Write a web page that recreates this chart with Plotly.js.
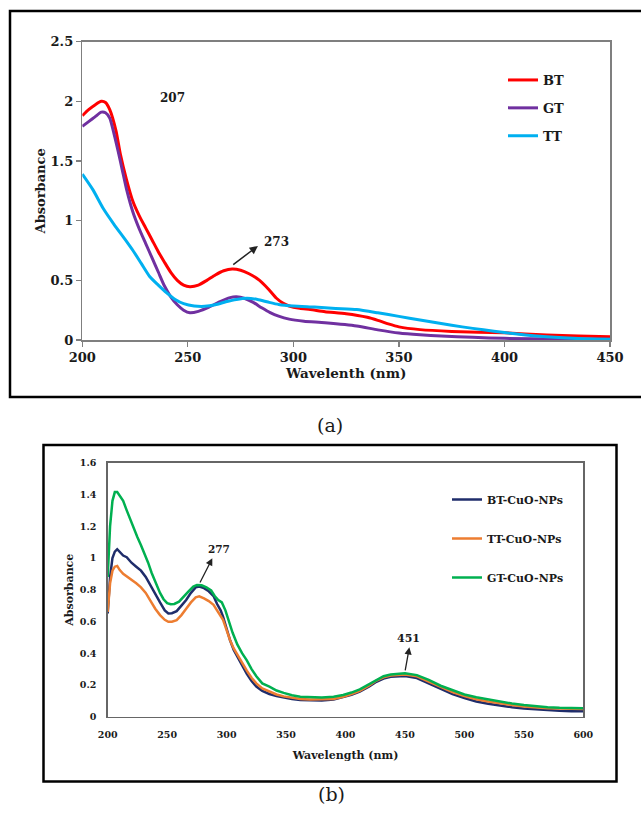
<!DOCTYPE html>
<html>
<head>
<meta charset="utf-8">
<script src="https://cdn.plot.ly/plotly-3.0.1.min.js"></script>
<style>
  html, body { margin: 0; padding: 0; background: #ffffff; }
  #chart { width: 641px; height: 820px; }
</style>
</head>
<body>
<div id="chart"></div>
<script>
// ---------- Panel (a): extracts ----------
const bt_x = [200,203,206,209,211,213,216,218,221,224,227,230,233,236,239,242,245,248,251,255,259,263,267,271,275,279,284,288,292,295,298,303,308,315,325,335,340,345,350,360,375,400,420,435,450];
const bt_y = [1.88,1.93,1.97,2.00,1.99,1.93,1.75,1.56,1.34,1.16,1.04,0.94,0.84,0.74,0.65,0.565,0.50,0.46,0.447,0.46,0.50,0.545,0.58,0.595,0.585,0.555,0.50,0.43,0.35,0.31,0.285,0.265,0.255,0.237,0.22,0.19,0.165,0.135,0.11,0.087,0.072,0.06,0.042,0.033,0.028];

const gt_x = [200,203,206,209,211,213,215,217,219,221,224,227,230,233,236,239,242,245,248,251,255,260,265,270,273,277,281,285,289,293,298,305,315,330,340,350,360,370,385,400,425,450];
const gt_y = [1.79,1.83,1.87,1.91,1.905,1.86,1.73,1.58,1.42,1.26,1.07,0.93,0.81,0.69,0.57,0.45,0.36,0.295,0.25,0.228,0.24,0.275,0.32,0.355,0.362,0.348,0.315,0.27,0.23,0.20,0.175,0.158,0.145,0.118,0.085,0.058,0.043,0.033,0.022,0.014,0.008,0.006];

const tt_x = [200,205,210,215,220,224,228,232,236,240,244,248,253,258,263,268,273,278,283,288,293,300,310,320,330,340,350,360,370,380,390,400,410,420,435,450];
const tt_y = [1.39,1.26,1.10,0.97,0.85,0.75,0.64,0.53,0.46,0.395,0.34,0.305,0.285,0.282,0.295,0.32,0.34,0.35,0.34,0.318,0.298,0.285,0.276,0.265,0.255,0.228,0.198,0.168,0.138,0.11,0.085,0.062,0.042,0.027,0.012,0.006];

// ---------- Panel (b): CuO nanoparticles ----------
const nav_x = [200,202,204,206,208,210,213,216,220,224,228,232,236,240,244,248,251,254,258,262,266,270,274,277,281,285,289,292,295,297,300,303,306,309,313,317,321,325,330,336,342,348,355,362,370,380,390,398,405,412,420,426,432,438,444,450,460,470,480,490,500,510,520,530,540,550,560,570,580,590,600];
const nav_y = [0.65,0.88,1.00,1.04,1.055,1.04,1.015,1.005,0.97,0.945,0.92,0.88,0.825,0.775,0.72,0.67,0.65,0.652,0.665,0.70,0.735,0.78,0.815,0.82,0.81,0.79,0.76,0.71,0.67,0.63,0.55,0.48,0.42,0.38,0.32,0.27,0.225,0.19,0.163,0.143,0.13,0.121,0.112,0.105,0.102,0.102,0.108,0.122,0.138,0.158,0.19,0.22,0.24,0.252,0.256,0.256,0.243,0.21,0.172,0.142,0.118,0.096,0.082,0.07,0.06,0.052,0.046,0.042,0.038,0.035,0.034];

const org_x = [200,202,204,206,208,210,213,216,220,224,228,232,236,240,244,248,251,254,258,262,266,270,274,277,281,285,289,292,295,297,300,303,306,309,313,317,321,325,330,336,342,348,355,362,370,380,390,398,405,412,420,426,432,438,444,450,460,470,480,490,500,510,520,530,540,550,560,570,580,590,600];
const org_y = [0.66,0.84,0.92,0.945,0.95,0.925,0.90,0.885,0.865,0.84,0.815,0.78,0.73,0.68,0.64,0.61,0.598,0.598,0.608,0.64,0.68,0.72,0.752,0.758,0.745,0.728,0.705,0.67,0.64,0.61,0.545,0.48,0.43,0.39,0.335,0.29,0.245,0.21,0.178,0.158,0.14,0.128,0.118,0.112,0.108,0.108,0.112,0.126,0.142,0.163,0.197,0.228,0.248,0.26,0.265,0.266,0.254,0.222,0.185,0.155,0.13,0.11,0.096,0.084,0.073,0.065,0.058,0.054,0.051,0.049,0.048];

const grn_x = [200,202,204,206,208,210,213,216,219,222,225,228,231,234,237,240,244,247,250,253,256,260,264,268,272,275,279,283,287,290,293,296,299,302,305,309,313,317,321,325,330,336,342,348,355,362,370,380,390,398,405,412,420,426,432,438,444,450,460,470,480,490,500,510,520,530,540,550,560,570,580,590,600];
const grn_y = [0.88,1.20,1.36,1.415,1.415,1.39,1.36,1.30,1.24,1.18,1.13,1.08,1.03,0.97,0.905,0.85,0.78,0.74,0.715,0.708,0.71,0.725,0.76,0.79,0.82,0.83,0.828,0.815,0.795,0.76,0.735,0.72,0.67,0.60,0.53,0.455,0.40,0.355,0.30,0.255,0.21,0.19,0.165,0.15,0.135,0.126,0.122,0.121,0.126,0.137,0.152,0.172,0.205,0.232,0.255,0.266,0.272,0.274,0.262,0.232,0.195,0.165,0.14,0.122,0.108,0.095,0.083,0.074,0.066,0.06,0.056,0.054,0.053];

const namesA = ['BT','GT','TT'];
const namesB = ['BT-CuO-NPs','TT-CuO-NPs','GT-CuO-NPs'];
const peakA = ['207','273'];
const peakB = ['277','451'];
const titlesX = ['Wavelenth (nm)','Wavelength (nm)'];
const titleY = 'Absorbance';
const captions = ['(a)','(b)'];

// ---------- layout helpers (page pixels -> paper) ----------
const W = 641, H = 820;
const PX = v => v / W;
const PY = v => 1 - v / H;
const SERIF = 'DejaVu Serif';
const INK = '#1a1a1a';
const bold = (size) => ({family: SERIF, size: size, weight: 'bold', color: INK});

const traces = [
  {x: bt_x, y: bt_y, name: namesA[0], xaxis: 'x', yaxis: 'y', legend: 'legend', legendgroup: 'a1', mode: 'lines', line: {color: '#ff0000', width: 3, shape: 'spline', smoothing: 0.6}},
  {x: gt_x, y: gt_y, name: namesA[1], xaxis: 'x', yaxis: 'y', legend: 'legend', legendgroup: 'a2', mode: 'lines', line: {color: '#7030a0', width: 3, shape: 'spline', smoothing: 0.6}},
  {x: tt_x, y: tt_y, name: namesA[2], xaxis: 'x', yaxis: 'y', legend: 'legend', legendgroup: 'a3', mode: 'lines', line: {color: '#00b0f0', width: 3, shape: 'spline', smoothing: 0.6}},
  {x: nav_x, y: nav_y, name: namesB[0], xaxis: 'x2', yaxis: 'y2', legend: 'legend2', legendgroup: 'b1', mode: 'lines', line: {color: '#1f2d6b', width: 2.5}},
  {x: org_x, y: org_y, name: namesB[1], xaxis: 'x2', yaxis: 'y2', legend: 'legend2', legendgroup: 'b2', mode: 'lines', line: {color: '#ed7d31', width: 2.5}},
  {x: grn_x, y: grn_y, name: namesB[2], xaxis: 'x2', yaxis: 'y2', legend: 'legend2', legendgroup: 'b3', mode: 'lines', line: {color: '#00b050', width: 2.5}}
];

const axA = {showgrid: false, zeroline: false, showline: true, mirror: true, linecolor: '#7f7f7f', linewidth: 1.5,
             ticks: 'outside', ticklen: 5, tickwidth: 1.2, tickcolor: '#7f7f7f', tickfont: bold(13)};
const axB = {showgrid: false, zeroline: false, showline: true, mirror: true, linecolor: '#666666', linewidth: 1.5,
             ticks: '', tickfont: bold(9.5)};

const layout = {
  width: W, height: H,
  margin: {l: 0, r: 0, t: 0, b: 0},
  paper_bgcolor: '#ffffff', plot_bgcolor: '#ffffff',
  showlegend: true,
  xaxis: Object.assign({}, axA, {domain: [PX(82.3), PX(610)], range: [200, 450], dtick: 50, anchor: 'y',
          title: {text: titlesX[0], font: bold(13.5), standoff: 4}}),
  yaxis: Object.assign({}, axA, {domain: [PY(340), PY(41.7)], range: [0, 2.5], dtick: 0.5, anchor: 'x',
          title: {text: titleY, font: bold(13), standoff: 2}}),
  xaxis2: Object.assign({}, axB, {domain: [PX(107.7), PX(583.3)], range: [200, 600], dtick: 50, anchor: 'y2',
          ticklabelstandoff: 8, title: {text: titlesX[1], font: bold(11), standoff: 12}}),
  yaxis2: Object.assign({}, axB, {domain: [PY(716.7), PY(462.7)], range: [0, 1.6], dtick: 0.2, anchor: 'x2',
          ticklabelstandoff: 8, title: {text: titleY, font: bold(11), standoff: 4}}),
  legend: {x: PX(503), y: PY(65), xanchor: 'left', yanchor: 'top', bgcolor: 'rgba(0,0,0,0)',
           font: bold(13), itemwidth: 30, tracegroupgap: 8, traceorder: 'grouped'},
  legend2: {x: PX(447), y: PY(485), xanchor: 'left', yanchor: 'top', bgcolor: 'rgba(0,0,0,0)',
           font: bold(11), itemwidth: 30, tracegroupgap: 20, traceorder: 'grouped'},
  shapes: [
    {type: 'rect', xref: 'paper', yref: 'paper', x0: PX(10), x1: PX(660), y0: PY(397), y1: PY(11),
     line: {color: '#000000', width: 2.5}, fillcolor: 'rgba(0,0,0,0)', layer: 'below'},
    {type: 'rect', xref: 'paper', yref: 'paper', x0: PX(43.5), x1: PX(616.5), y0: PY(781.5), y1: PY(445),
     line: {color: '#000000', width: 2.5}, fillcolor: 'rgba(0,0,0,0)', layer: 'below'}
  ],
  annotations: [
    {xref: 'x', yref: 'y', x: 242.5, y: 2.03, text: peakA[0], showarrow: false, font: bold(12)},
    {xref: 'x', yref: 'y', x: 283.2, y: 0.788, ax: 270.8, ay: 0.623, axref: 'x', ayref: 'y', text: '',
     showarrow: true, arrowhead: 2, arrowsize: 1.1, arrowwidth: 1.5, arrowcolor: '#222222'},
    {xref: 'x', yref: 'y', x: 292.2, y: 0.821, text: peakA[1], showarrow: false, font: bold(12)},
    {xref: 'x2', yref: 'y2', x: 293.7, y: 1.056, text: peakB[0], showarrow: false, font: bold(10.5)},
    {xref: 'x2', yref: 'y2', x: 288, y: 0.998, ax: 277, ay: 0.836, axref: 'x2', ayref: 'y2', text: '',
     showarrow: true, arrowhead: 2, arrowsize: 1.1, arrowwidth: 1.3, arrowcolor: '#222222'},
    {xref: 'x2', yref: 'y2', x: 452.8, y: 0.494, text: peakB[1], showarrow: false, font: bold(11)},
    {xref: 'x2', yref: 'y2', x: 453.7, y: 0.437, ax: 450, ay: 0.283, axref: 'x2', ayref: 'y2', text: '',
     showarrow: true, arrowhead: 2, arrowsize: 1.1, arrowwidth: 1.3, arrowcolor: '#222222'},
    {xref: 'paper', yref: 'paper', x: PX(330), y: PY(425), text: captions[0], showarrow: false,
     font: {family: SERIF, size: 19, color: INK}},
    {xref: 'paper', yref: 'paper', x: PX(331), y: PY(807), text: captions[1], showarrow: false,
     font: {family: SERIF, size: 19, color: INK}}
  ]
};

Plotly.newPlot('chart', traces, layout, {staticPlot: true, displayModeBar: false});
</script>
</body>
</html>
